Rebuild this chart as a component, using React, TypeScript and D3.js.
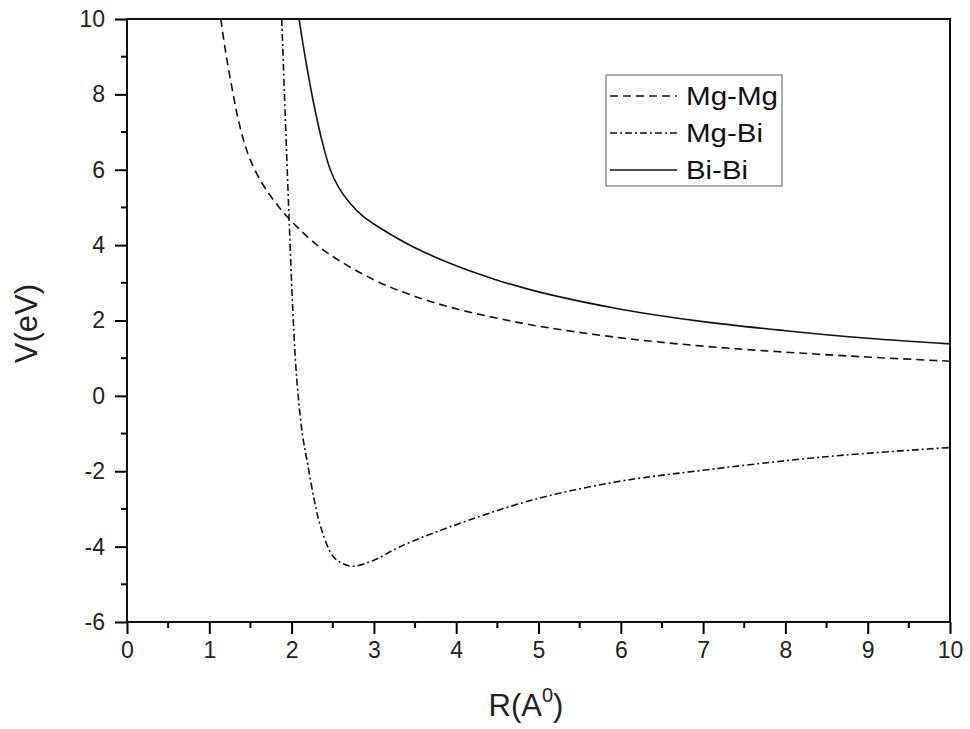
import React, { useEffect, useRef } from "react";
import * as d3 from "d3";

// values: R in Angstrom, V in eV
const mgMgR = [1.14, 1.2, 1.29, 1.35, 1.42, 1.5, 1.65, 1.8, 2.0, 2.4, 3.0, 3.5, 4.0, 4.5, 5.0, 6.0, 7.0, 8.0, 9.0, 10];
const mgMgV = [10, 9.1, 8.0, 7.35, 6.76, 6.25, 5.61, 5.14, 4.63, 3.85, 3.08, 2.64, 2.31, 2.06, 1.85, 1.54, 1.32, 1.16, 1.03, 0.92];

const mgBiR = [1.88, 1.93, 1.97, 2.01, 2.045, 2.08, 2.13, 2.19, 2.27, 2.35, 2.5, 2.62, 2.75, 3.0, 3.32, 3.92, 4.93, 5.95, 6.9, 8.46, 10];
const mgBiV = [10, 7.0, 4.67, 2.5, 1.0, 0, -1.0, -1.75, -2.7, -3.45, -4.25, -4.45, -4.52, -4.36, -4.0, -3.48, -2.76, -2.28, -2.0, -1.62, -1.37];

const biBiR = [2.09, 2.17, 2.26, 2.36, 2.47, 2.57, 2.7, 2.87, 3.1, 3.48, 4.0, 4.5, 5.0, 6.0, 7.0, 8.0, 9.0, 10];
const biBiV = [10, 8.92, 7.85, 6.85, 6.0, 5.54, 5.14, 4.76, 4.42, 3.95, 3.45, 3.07, 2.76, 2.3, 1.97, 1.73, 1.53, 1.38];

const seriesNames = ["Mg-Mg", "Mg-Bi", "Bi-Bi"];
const xTicks = [0, 1, 2, 3, 4, 5, 6, 7, 8, 9, 10];
const yTicks = [-6, -4, -2, 0, 2, 4, 6, 8, 10];

const App = () => {
  const container = useRef<HTMLDivElement>(null);

  useEffect(() => {
    const width = 970;
    const height = 729;
    const marginTop = 19;
    const marginRight = 20;
    const marginBottom = 107;
    const marginLeft = 127;
    const font = "'Liberation Sans', Arial, sans-serif";

    const x = d3.scaleLinear().domain([0, 10]).range([marginLeft, width - marginRight]);
    const y = d3.scaleLinear().domain([-6, 10]).range([height - marginBottom, marginTop]);

    const svg = d3
      .select(container.current)
      .append("svg")
      .attr("width", width)
      .attr("height", height)
      .attr("viewBox", [0, 0, width, height])
      .attr("style", "position:absolute; left:0; top:0; background:#fff")
      .attr("font-family", font);

    svg
      .append("clipPath")
      .attr("id", "plot-clip")
      .append("rect")
      .attr("x", marginLeft)
      .attr("y", marginTop)
      .attr("width", width - marginLeft - marginRight)
      .attr("height", height - marginTop - marginBottom);

    const series = [
      { name: seriesNames[0], r: mgMgR, v: mgMgV, dash: "8,5" },
      { name: seriesNames[1], r: mgBiR, v: mgBiV, dash: "7,3,2,3" },
      { name: seriesNames[2], r: biBiR, v: biBiV, dash: null },
    ];

    const line = d3
      .line<[number, number]>()
      .x((d) => x(d[0]))
      .y((d) => y(d[1]))
      .curve(d3.curveCatmullRom.alpha(0.5));

    svg
      .append("g")
      .attr("clip-path", "url(#plot-clip)")
      .selectAll("path")
      .data(series)
      .join("path")
      .attr("fill", "none")
      .attr("stroke", "#111")
      .attr("stroke-width", 1.6)
      .attr("stroke-dasharray", (d) => d.dash)
      .attr("d", (d) => line(d.r.map((r, i) => [r, d.v[i]] as [number, number])));

    const fmt = (d: d3.NumberValue) => String(d); // plain hyphen for negatives

    // bottom axis with minor ticks at half units
    const xMinor = d3.range(0.5, 10, 1);
    const bottom = svg.append("g").attr("transform", `translate(0,${height - marginBottom})`);
    bottom
      .call(d3.axisBottom(x).tickValues(xTicks).tickSize(12).tickPadding(8).tickFormat(fmt))
      .call((g) => g.select(".domain").remove())
      .call((g) => g.selectAll("line").attr("stroke-width", 2))
      .call((g) => g.selectAll("text").attr("font-size", 23).attr("font-family", font).attr("fill", "#222"));
    bottom
      .selectAll(".minor")
      .data(xMinor)
      .join("line")
      .attr("x1", (d) => x(d))
      .attr("x2", (d) => x(d))
      .attr("y1", 0)
      .attr("y2", 6)
      .attr("stroke", "#000")
      .attr("stroke-width", 2);

    // left axis with minor ticks at odd values
    const yMinor = d3.range(-5, 10, 2);
    const left = svg.append("g").attr("transform", `translate(${marginLeft},0)`);
    left
      .call(d3.axisLeft(y).tickValues(yTicks).tickSize(12).tickPadding(10).tickFormat(fmt))
      .call((g) => g.select(".domain").remove())
      .call((g) => g.selectAll("line").attr("stroke-width", 2))
      .call((g) => g.selectAll("text").attr("font-size", 23).attr("font-family", font).attr("fill", "#222"));
    left
      .selectAll(".minor")
      .data(yMinor)
      .join("line")
      .attr("x1", 0)
      .attr("x2", -6)
      .attr("y1", (d) => y(d))
      .attr("y2", (d) => y(d))
      .attr("stroke", "#000")
      .attr("stroke-width", 2);

    // frame
    svg
      .append("rect")
      .attr("x", marginLeft)
      .attr("y", marginTop)
      .attr("width", width - marginLeft - marginRight)
      .attr("height", height - marginTop - marginBottom)
      .attr("fill", "none")
      .attr("stroke", "#111")
      .attr("stroke-width", 2);

    // axis titles
    const xTitle = svg
      .append("text")
      .attr("x", 526)
      .attr("y", 716)
      .attr("text-anchor", "middle")
      .attr("font-size", 31)
      .attr("fill", "#222");
    xTitle.append("tspan").text("R(A");
    xTitle.append("tspan").attr("font-size", 20).attr("dy", -14).text("0");
    xTitle.append("tspan").attr("dy", 14).text(")");

    svg
      .append("text")
      .attr("transform", `translate(37,${(marginTop + height - marginBottom) / 2 + 3}) rotate(-90)`)
      .attr("text-anchor", "middle")
      .attr("font-size", 31)
      .attr("fill", "#222")
      .text("V(eV)");

    // legend
    const legend = svg.append("g").attr("transform", "translate(606,75)");
    legend
      .append("rect")
      .attr("width", 176)
      .attr("height", 111)
      .attr("fill", "#fff")
      .attr("stroke", "#777")
      .attr("stroke-width", 1.2);
    const item = legend
      .selectAll(".item")
      .data(series)
      .join("g")
      .attr("transform", (d, i) => `translate(0,${21 + i * 37})`);
    item
      .append("line")
      .attr("x1", 4)
      .attr("x2", 71)
      .attr("stroke", "#111")
      .attr("stroke-width", 1.6)
      .attr("stroke-dasharray", (d) => d.dash);
    item
      .append("text")
      .attr("x", 80)
      .attr("dy", "0.35em")
      .attr("font-size", 25)
      .attr("textLength", (d) => (d.name === "Mg-Mg" ? 92 : d.name === "Mg-Bi" ? 77 : 62))
      .attr("lengthAdjust", "spacingAndGlyphs")
      .attr("fill", "#111")
      .text((d) => d.name);

    return () => {
      svg.remove();
    };
  }, []);

  return <div ref={container}></div>;
};

export default App;
